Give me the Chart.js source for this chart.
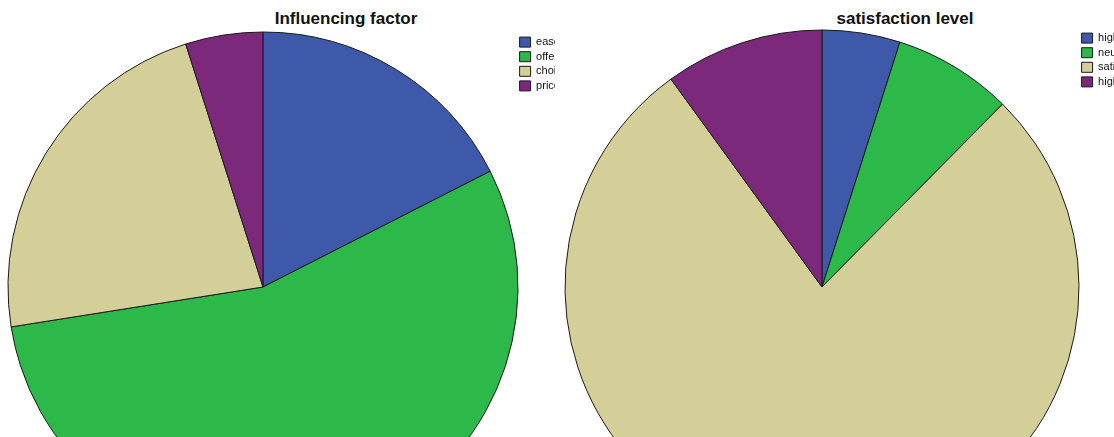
<!DOCTYPE html>
<html>
<head>
<meta charset="utf-8">
<script src="https://cdn.jsdelivr.net/npm/chart.js@4/dist/chart.umd.min.js"></script>
<style>
  html, body { margin: 0; padding: 0; background: #fff; overflow: hidden; }
  body { width: 1114px; height: 437px; position: relative; font-family: "Liberation Sans", Arial, sans-serif; }
  canvas { position: absolute; top: 0; }
  .titulo { position: absolute; top: 9px; font-weight: bold; font-size: 17px; color: #111; white-space: nowrap; transform: translateX(-50%); }
</style>
</head>
<body>
<div class="titulo" id="tituloFactor" style="left:346px">Influencing factor</div>
<div class="titulo" id="tituloSatisfaccion" style="left:905px">satisfaction level</div>
<canvas id="graficoFactor" width="555" height="541" style="left:0px"></canvas>
<canvas id="graficoSatisfaccion" width="559" height="545" style="left:555px"></canvas>
<script>
// Datos (porcentajes aproximados)
const factorCategorias = ['ease of access', 'offers', 'choice', 'price'];
const factorValores = [17.5, 55.0, 22.6, 4.9];

const satisfaccionCategorias = ['highly dissatisfied', 'neutral', 'satisfied', 'highly satisfied'];
const satisfaccionValores = [4.9, 7.5, 77.6, 10.0];

const paletaColores = ['#3e58aa', '#2db84a', '#d4cf98', '#7c297c'];

function crearPastel(idCanvas, labels, data, radio, paddingTop, paddingIzq, anchoLeyenda) {
    const ctx = document.getElementById(idCanvas).getContext('2d');
    return new Chart(ctx, {
        type: 'pie',
        data: {
            labels: labels,
            datasets: [
                {
                    data: data,
                    backgroundColor: paletaColores,
                    borderColor: '#1a1a1a',
                    borderWidth: 1,
                    radius: radio,
                    clip: false,
                },
            ],
        },
        options: {
            responsive: false,
            animation: false,
            layout: { padding: { top: paddingTop, left: paddingIzq, right: 0, bottom: 0 } },
            plugins: {
                tooltip: { enabled: false },
                legend: {
                    position: 'right',
                    align: 'start',
                    maxWidth: anchoLeyenda,
                    labels: {
                        boxWidth: 11,
                        boxHeight: 10,
                        padding: 3.6,
                        color: '#111',
                        font: { family: '"Liberation Sans", Arial, sans-serif', size: 11 },
                    },
                },
            },
        },
    });
}

// el área del gráfico se ajusta para que el centro quede donde está en la referencia
crearPastel('graficoFactor', factorCategorias, factorValores, 255, 33, 10, 39);
crearPastel('graficoSatisfaccion', satisfaccionCategorias, satisfaccionValores, 257, 29, 11, 36);
</script>
</body>
</html>
